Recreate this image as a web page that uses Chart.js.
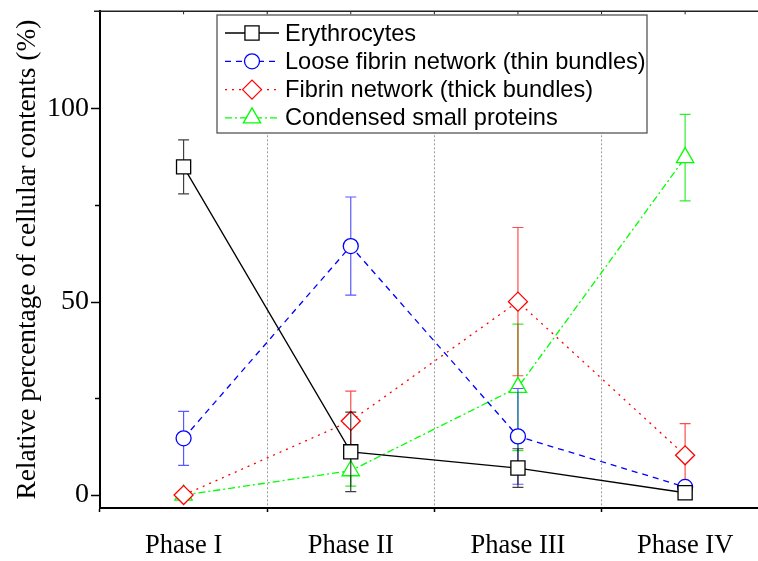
<!DOCTYPE html>
<html>
<head>
<meta charset="utf-8">
<script src="https://cdn.jsdelivr.net/npm/chart.js@4.4.0/dist/chart.umd.min.js"></script>
<style>
  html, body { margin: 0; padding: 0; overflow: hidden; background: #fff; }
</style>
</head>
<body>
<canvas id="phaseChart" width="780" height="561"></canvas>
<script>
// data
const phases = ['Phase I', 'Phase II', 'Phase III', 'Phase IV'];
const yTicks = [0, 50, 100];
const yMinorTicks = [25, 75];

const erythrocytes = [85, 11.2, 7, 0.6];
const erythrocytesErr = [7, 10.3, 5, 0];
const looseFibrin = [14.7, 64.5, 15.2, 2.1];
const looseFibrinErr = [7, 12.7, 12.4, 0];
const thickFibrin = [0, 19.2, 50.1, 10.3];
const thickFibrinErr = [0, 7.7, 19.2, 8.2];
const smallProteins = [0, 6.3, 27.9, 87.4];
const smallProteinsErr = [0, 4, 16.4, 11.2];

const serifFont = 'Liberation Serif';
const sansFont = 'Liberation Sans';

function series(label, data, errors, color, errColor, dash, style, radius) {
    return {
        label: label,
        data: data,
        errors: errors,
        errorColor: errColor,
        borderColor: color,
        borderWidth: 1.3,
        borderDash: dash,
        pointStyle: style,
        pointRadius: radius,
        pointHoverRadius: radius,
        pointBorderColor: color,
        pointBackgroundColor: '#fff',
        pointBorderWidth: 1.3,
        tension: 0,
        fill: false,
        clip: false
    };
}

// error bars, drawn under each dataset's line and markers
const errorBars = {
    id: 'errorBars',
    beforeDatasetDraw(chart, args) {
        const ds = chart.data.datasets[args.index];
        if (!ds.errors) return;
        const xs = chart.scales.x, ys = chart.scales.y;
        const ctx = chart.ctx;
        ctx.save();
        ctx.strokeStyle = ds.errorColor;
        ctx.lineWidth = 1.2;
        ds.data.forEach((v, i) => {
            const e = ds.errors[i];
            if (!e) return;
            const x = xs.getPixelForValue(i);
            const yt = ys.getPixelForValue(v + e);
            const yb = ys.getPixelForValue(v - e);
            ctx.beginPath();
            ctx.moveTo(x, yt); ctx.lineTo(x, yb);
            ctx.moveTo(x - 5.5, yt); ctx.lineTo(x + 5.5, yt);
            ctx.moveTo(x - 5.5, yb); ctx.lineTo(x + 5.5, yb);
            ctx.stroke();
        });
        ctx.restore();
    }
};

function marker(ctx, style, r, x, y) {
    ctx.beginPath();
    if (style === 'rect') {
        const s = r * Math.SQRT1_2;
        ctx.rect(x - s, y - s, 2 * s, 2 * s);
    } else if (style === 'circle') {
        ctx.arc(x, y, r, 0, Math.PI * 2);
    } else if (style === 'rectRot') {
        ctx.moveTo(x - r, y); ctx.lineTo(x, y - r); ctx.lineTo(x + r, y); ctx.lineTo(x, y + r);
        ctx.closePath();
    } else if (style === 'triangle') {
        for (let k = 0; k < 3; k++) {
            const a = -Math.PI / 2 + k * 2 * Math.PI / 3;
            if (k === 0) ctx.moveTo(x + r * Math.cos(a), y + r * Math.sin(a));
            else ctx.lineTo(x + r * Math.cos(a), y + r * Math.sin(a));
        }
        ctx.closePath();
    }
    ctx.fill();
    ctx.stroke();
}

// frame extras: top line, minor y ticks and the boxed legend
const frameAndLegend = {
    id: 'frameAndLegend',
    afterDatasetsDraw(chart) {
        const ctx = chart.ctx;
        const area = chart.chartArea;
        const xs = chart.scales.x, ys = chart.scales.y;
        ctx.save();
        // top frame line
        ctx.strokeStyle = '#222';
        ctx.lineWidth = 1.5;
        ctx.beginPath();
        ctx.moveTo(area.left - 6, area.top);
        ctx.lineTo(chart.width, area.top);
        ctx.stroke();
        ctx.lineWidth = 1;
        ctx.beginPath();
        phases.forEach((p, i) => {
            const xc = xs.getPixelForValue(i);
            const xb = xc + (xs.getPixelForValue(1) - xs.getPixelForValue(0)) / 2;
            ctx.moveTo(xc, area.top); ctx.lineTo(xc, area.top + 3);
            ctx.moveTo(xb, area.top); ctx.lineTo(xb, area.top + 3);
        });
        ctx.stroke();
        // minor ticks on the y axis
        ctx.strokeStyle = '#000';
        ctx.lineWidth = 1.5;
        ctx.beginPath();
        yMinorTicks.forEach(v => {
            const y = ys.getPixelForValue(v);
            ctx.moveTo(area.left - 5, y); ctx.lineTo(area.left, y);
        });
        ctx.stroke();

        // legend box
        const bx = 217, by = 15, bw = 430, bh = 118;
        ctx.fillStyle = '#fff';
        ctx.fillRect(bx, by, bw, bh);
        ctx.strokeStyle = '#555';
        ctx.lineWidth = 1.3;
        ctx.strokeRect(bx, by, bw, bh);
        ctx.font = '23.6px "' + sansFont + '"';
        ctx.textBaseline = 'middle';
        chart.data.datasets.forEach((ds, i) => {
            const y = 33 + i * 28.3;
            ctx.strokeStyle = ds.borderColor;
            ctx.lineWidth = ds.borderWidth;
            ctx.setLineDash(ds.borderDash);
            ctx.beginPath();
            ctx.moveTo(225, y); ctx.lineTo(279, y);
            ctx.stroke();
            ctx.setLineDash([]);
            ctx.fillStyle = '#fff';
            ctx.lineWidth = ds.pointBorderWidth;
            marker(ctx, ds.pointStyle, ds.pointRadius, 252, y);
            ctx.fillStyle = '#000';
            ctx.fillText(ds.label, 285, y + 1);
        });
        ctx.restore();
    }
};

const ctx = document.getElementById('phaseChart').getContext('2d');
const phaseChart = new Chart(ctx, {
    type: 'line',
    data: {
        labels: phases,
        datasets: [
            series('Erythrocytes', erythrocytes, erythrocytesErr, '#000000', 'rgba(0,0,0,0.75)', [], 'rect', 10),
            series('Loose fibrin network (thin bundles)', looseFibrin, looseFibrinErr, '#0000ff', 'rgba(0,0,255,0.65)', [6, 5], 'circle', 7.5),
            series('Fibrin network (thick bundles)', thickFibrin, thickFibrinErr, '#ff0000', 'rgba(255,0,0,0.7)', [2, 5], 'rectRot', 9.5),
            series('Condensed small proteins', smallProteins, smallProteinsErr, '#00ff00', 'rgba(0,230,0,0.8)', [7, 3, 2, 3], 'triangle', 10)
        ]
    },
    options: {
        responsive: false,
        animation: false,
        devicePixelRatio: 1,
        layout: { padding: { left: 0, top: 9, right: 10, bottom: 0 } },
        scales: {
            x: {
                type: 'category',
                offset: true,
                grid: {
                    offset: true,
                    color: '#9a9a9a',
                    lineWidth: 1,
                    drawTicks: true,
                    tickLength: 4,
                    tickColor: '#000',
                    tickWidth: 1.5
                },
                border: { display: true, color: '#000', width: 2, dash: [2, 2] },
                ticks: {
                    color: '#000',
                    font: { family: serifFont, size: 26.5 },
                    padding: 18,
                    maxRotation: 0
                },
                afterFit: s => { s.height = 53; }
            },
            y: {
                min: -3.35,
                max: 125.3,
                afterBuildTicks: s => { s.ticks = yTicks.map(v => ({ value: v })); },
                grid: {
                    drawOnChartArea: false,
                    drawTicks: true,
                    tickLength: 9,
                    tickColor: '#000',
                    tickWidth: 1.5
                },
                border: { display: true, color: '#000', width: 2 },
                ticks: {
                    color: '#000',
                    font: { family: serifFont, size: 28 },
                    padding: 2
                },
                title: {
                    display: true,
                    text: 'Relative percentage of cellular contents (%)',
                    color: '#000',
                    font: { family: serifFont, size: 27.3 },
                    padding: 11
                },
                afterFit: s => { s.width = 100; s.paddingTop = 0; s.paddingBottom = 0; }
            }
        },
        plugins: {
            legend: { display: false },
            tooltip: { enabled: false }
        }
    },
    plugins: [errorBars, frameAndLegend]
});
</script>
</body>
</html>
